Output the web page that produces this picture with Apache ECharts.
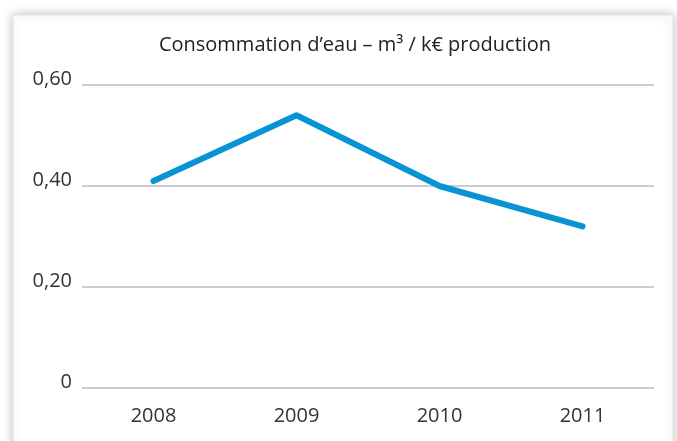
<!DOCTYPE html>
<head>
    <meta charset="utf-8">
    <title>ECharts</title>
    <style>
    html,body { height:100%; width:100%; margin:0; padding:0; background:white; }
    #main { width:677px; height:441px; }
    </style>
</head>
<body>
    <div id="main"></div>
    <script src="https://cdn.jsdelivr.net/npm/echarts@6/dist/echarts.min.js"></script>
    <script type="text/javascript">
    // données
    var years = ['2008', '2009', '2010', '2011'];
    var waterUse = [0.41, 0.54, 0.40, 0.32];
    var yTicks = [0, 0.2, 0.4, 0.6];

    var myChart = echarts.init(document.getElementById('main'));

    var option = {
        backgroundColor: '#ffffff',
        textStyle: { fontFamily: 'Open Sans' },
        graphic: [{
            type: 'rect',
            z: -10,
            shape: { x: 13, y: 15, width: 660, height: 440 },
            style: {
                fill: '#ffffff',
                stroke: '#e4e4e4',
                lineWidth: 1,
                shadowBlur: 10,
                shadowColor: 'rgba(0,0,0,0.25)'
            }
        }],
        title: {
            text: 'Consommation d\u2019eau \u2013 m\u00b3 / k\u20ac production',
            left: 350,
            textAlign: 'center',
            top: 30,
            textStyle: { fontSize: 20, fontWeight: 'normal', color: '#222', fontFamily: 'Open Sans' }
        },
        grid: { left: 82, right: 23, top: 85, bottom: 53 },
        xAxis: {
            type: 'category',
            data: years,
            boundaryGap: true,
            axisLine: { show: false },
            axisTick: { show: false },
            axisLabel: { fontSize: 20, color: '#333', margin: 18 }
        },
        yAxis: {
            type: 'value',
            min: yTicks[0],
            max: yTicks[yTicks.length - 1],
            interval: 0.2,
            axisLine: { show: false },
            axisTick: { show: false },
            axisLabel: {
                fontSize: 20, color: '#333', margin: 10,
                verticalAlign: 'bottom', lineHeight: 12,
                formatter: function (v) {
                    return v === 0 ? '0' : v.toFixed(2).replace('.', ',');
                }
            },
            splitLine: { lineStyle: { color: '#bdbdbd', width: 1.5 } }
        },
        series: [{
            type: 'line',
            data: waterUse,
            symbol: 'none',
            lineStyle: { color: '#0894d4', width: 6, cap: 'round', join: 'round' }
        }]
    };

    myChart.setOption(option, true);
    </script>
</body>
